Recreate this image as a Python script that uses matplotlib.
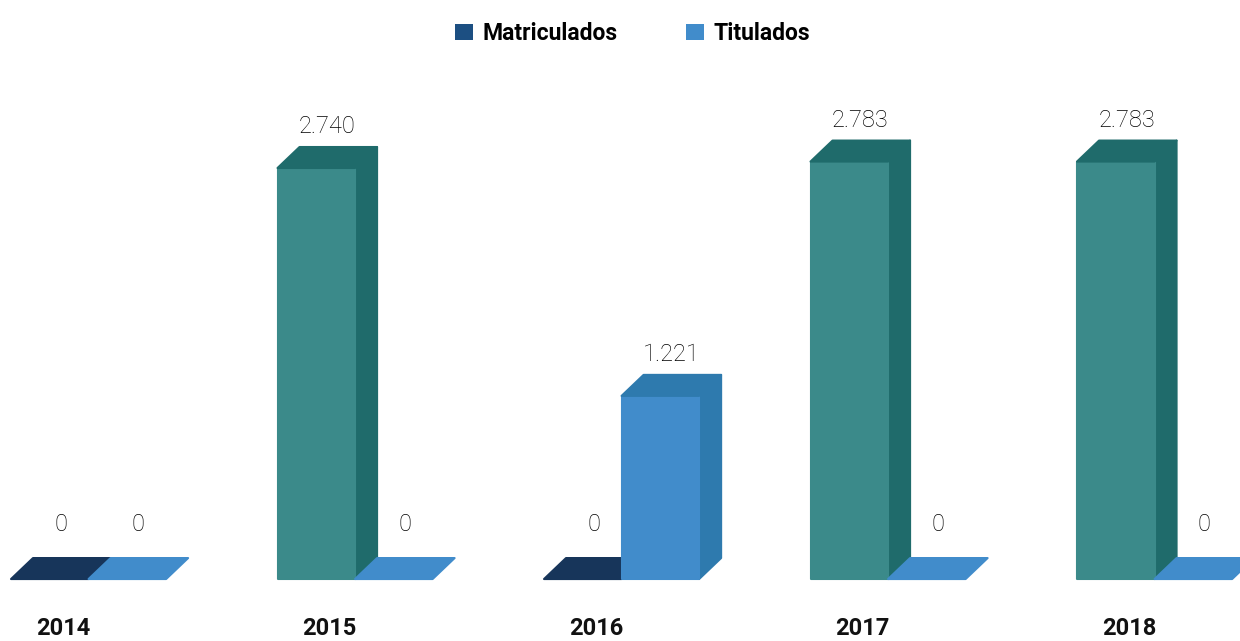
import matplotlib
matplotlib.use("Agg")
import matplotlib.pyplot as plt
from matplotlib.patches import Polygon, Patch

years = ["2014", "2015", "2016", "2017", "2018"]
matriculados = [0, 2740, 0, 2783, 2783]
titulados = [0, 0, 1221, 0, 0]
labels_mat = ["0", "2.740", "0", "2.783", "2.783"]
labels_tit = ["0", "0", "1.221", "0", "0"]

# colours: front, side/top, flat floor when value is zero
col_mat = ("#3b8a8a", "#1f6b6b", "#17355a")
col_tit = ("#418ccb", "#2e7aae", "#418ccb")
legend_mat = "#1c4f82"
legend_tit = "#418ccb"

plt.rcParams['font.family'] = ['Roboto', 'DejaVu Sans']

fig = plt.figure(figsize=(12.4, 6.41), dpi=100)
ax = fig.add_axes([0, 0, 1, 1])
ax.set_xlim(-0.0413, 4.6116)
ax.set_ylim(-413, 3860)
ax.axis('off')

w = 0.291    # bar width (group units)
dx = 0.0826  # depth offset x
dy = 140     # depth offset y (value units)


def bar3d(x0, v, cols):
    front, side, floor = cols
    top = side if v > 0 else floor
    kw = dict(closed=True, linewidth=1.5, joinstyle='round')
    if v > 0:
        ax.add_patch(Polygon([(x0 + w, 0), (x0 + w + dx, dy), (x0 + w + dx, v + dy), (x0 + w, v)],
                             facecolor=side, edgecolor=side, **kw))
        ax.add_patch(Polygon([(x0, 0), (x0 + w, 0), (x0 + w, v), (x0, v)],
                             facecolor=front, edgecolor=front, **kw))
    ax.add_patch(Polygon([(x0, v), (x0 + dx, v + dy), (x0 + w + dx, v + dy), (x0 + w, v)],
                         facecolor=top, edgecolor=top, **kw))


def value_label(x0, v, txt):
    off = 9 if v > 0 else 22
    ax.annotate(txt, (x0 + w / 2 + dx / 2, v + dy), xytext=(0, off), textcoords='offset pixels',
                ha='center', va='bottom', fontsize=17, fontweight='light', color='black')


for i, yr in enumerate(years):
    xm = i
    xt = i + w
    bar3d(xm, matriculados[i], col_mat)
    bar3d(xt, titulados[i], col_tit)
    value_label(xm, matriculados[i], labels_mat[i])
    value_label(xt, titulados[i], labels_tit[i])
    ax.text(i + 0.196, -327, yr, ha='center', va='center', fontsize=17, fontweight='bold', color='#111111')

handles = [Patch(facecolor=legend_mat, label="Matriculados"),
           Patch(facecolor=legend_tit, label="Titulados")]
fig.legend(handles=handles, loc='upper center', bbox_to_anchor=(0.51, 0.998), ncol=2, frameon=False,
           prop={'weight': 'bold', 'size': 16.5}, handlelength=0.8, handleheight=0.7,
           handletextpad=0.4, columnspacing=3.0)

fig.savefig("out.png", dpi=100)
